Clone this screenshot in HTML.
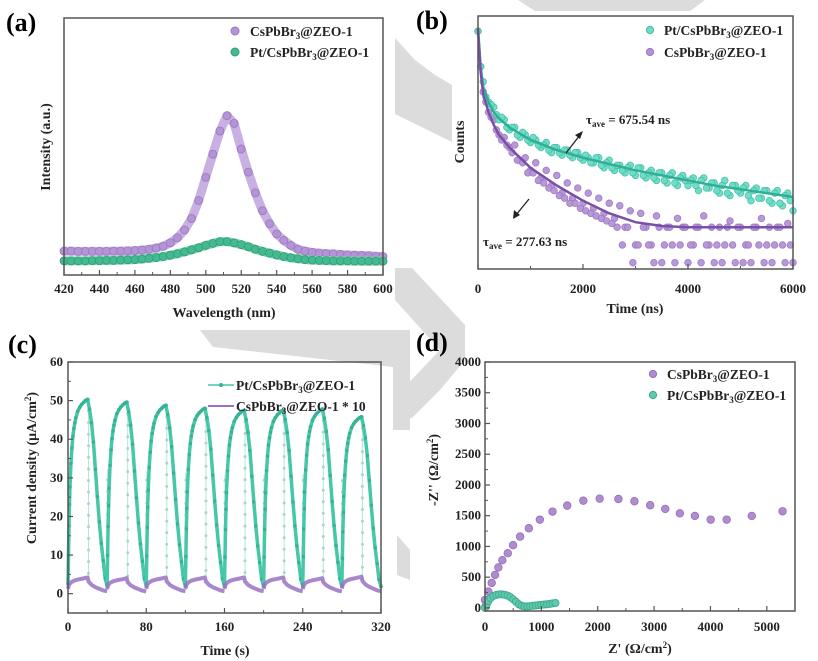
<!DOCTYPE html>
<html><head><meta charset="utf-8"><style>
html,body{margin:0;padding:0;background:#fff}
svg{display:block;font-family:"Liberation Serif",serif;font-weight:bold}
</style></head><body>
<svg id="fig" width="818" height="661" viewBox="0 0 818 661" xmlns="http://www.w3.org/2000/svg">
<g fill="#dcdcdc">
<polygon points="395,38 415,60 435,75 452,85 452,142 395,114"/>
<polygon points="518,0 705,0 690,11 535,11"/>
<polygon points="395,268 412,268 465,325 465,360 440,390 412,418 397,418 397,395 440,350 395,300"/>
<polygon points="200,330 410,330 410,430 393,430 393,367 213,347"/>
<polygon points="397,535 410,550 410,580 397,575"/>
</g>
<text x="6" y="31" font-size="26">(a)</text>
<text x="416" y="29" font-size="26">(b)</text>
<text x="8" y="353" font-size="26">(c)</text>
<text x="416" y="351" font-size="26">(d)</text>
<g id="plots"></g>
</svg>
<script>
// ---------- Panel (a) data ----------
const aWavelengths = [420,424,428,432,436,440,444,448,452,456,460,464,468,472,476,480,484,488,492,496,500,504,508,512,516,520,524,528,532,536,540,544,548,552,556,560,564,568,572,576,580,584,588,592,596,600];
const aPurple = [0.093,0.093,0.092,0.092,0.092,0.092,0.092,0.093,0.093,0.094,0.095,0.097,0.10,0.105,0.112,0.125,0.145,0.175,0.22,0.29,0.38,0.47,0.56,0.62,0.59,0.49,0.40,0.32,0.25,0.20,0.16,0.135,0.115,0.10,0.093,0.088,0.085,0.083,0.082,0.08,0.078,0.077,0.076,0.075,0.073,0.072];
const aGreen = [0.055,0.055,0.055,0.055,0.056,0.056,0.057,0.057,0.058,0.059,0.06,0.062,0.065,0.068,0.072,0.077,0.083,0.09,0.098,0.106,0.115,0.123,0.13,0.13,0.125,0.118,0.11,0.10,0.092,0.085,0.078,0.072,0.067,0.063,0.06,0.058,0.057,0.056,0.055,0.055,0.055,0.054,0.054,0.054,0.054,0.054];
const aXTicks = [420,440,460,480,500,520,540,560,580,600];
// ---------- Panel (b) data ----------
const bScatterStep = 100;
const bTeal = [0.94,0.74,0.66,0.64,0.59,0.59,0.55,0.56,0.52,0.53,0.50,0.51,0.48,0.50,0.46,0.48,0.45,0.47,0.44,0.46,0.43,0.44,0.42,0.44,0.40,0.43,0.39,0.41,0.38,0.41,0.37,0.40,0.36,0.39,0.35,0.38,0.34,0.38,0.33,0.37,0.33,0.36,0.31,0.36,0.32,0.34,0.30,0.35,0.29,0.33,0.30,0.33,0.27,0.32,0.28,0.31,0.26,0.31,0.25,0.30,0.23];
const bTeal2Start = 50;
const bTeal2 = [0.80,0.68,0.65,0.61,0.60,0.56,0.56,0.53,0.54,0.51,0.52,0.49,0.49,0.47,0.48,0.46,0.47,0.45,0.46,0.44,0.45,0.42,0.44,0.41,0.42,0.40,0.41,0.39,0.40,0.38,0.40,0.37,0.38,0.36,0.38,0.35,0.37,0.34,0.36,0.35,0.35,0.33,0.35,0.32,0.34,0.31,0.33,0.30,0.33,0.31,0.32,0.29,0.31,0.28,0.31,0.27,0.30,0.26,0.29,0.27];
const bPurple = [0.94,0.70,0.62,0.59,0.53,0.52,0.48,0.49,0.43,0.44,0.39,0.42,0.36,0.39,0.33,0.37,0.30,0.34,0.28,0.32,0.26,0.30,0.24,0.28,0.22,0.26,0.20,0.25,0.165,0.23,0.095,0.22,0.165,0.095,0.21,0.025,0.165,0.095,0.20,0.165,0.025,0.095,0.165,0.21,0.095,0.025,0.165,0.095,0.19,0.025,0.165,0.095,0.025,0.165,0.20,0.095,0.025,0.165,0.095,0.18,0.025];
const bPurple2Start = 50;
const bPurple2 = [0.80,0.66,0.60,0.55,0.51,0.49,0.46,0.43,0.42,0.38,0.38,0.35,0.34,0.32,0.31,0.29,0.28,0.26,0.26,0.24,0.23,0.22,0.21,0.20,0.19,0.18];
const bPurpleExtraStart = 2650;
const bPurpleExtra = [0.165,0.095,0.165,0.025,0.095,0.165,0.095,0.025,0.165,0.095,0.165,0.025,0.095,0.165,0.095,0.165,0.025,0.095,0.165,0.095,0.025,0.165,0.095,0.165,0.025,0.095,0.165,0.095,0.025,0.165,0.095,0.165,0.025,0.095];
const bFitTimes = [0,50,100,200,300,400,600,800,1000,1500,2000,2500,3000,3500,4000,4500,5000,5500,6000];
const bTealFit = [0.95,0.80,0.72,0.66,0.62,0.595,0.56,0.535,0.51,0.47,0.44,0.415,0.39,0.37,0.35,0.33,0.315,0.30,0.285];
const bPurpleFit = [0.95,0.78,0.69,0.62,0.57,0.53,0.48,0.44,0.40,0.33,0.27,0.22,0.185,0.17,0.165,0.165,0.165,0.165,0.165];
const bXTicks = [0,2000,4000,6000];
// ---------- Panel (c) data ----------
const cPeriod = 40;
const cTealPeaks = [50.3,49.6,48.8,48.0,47.5,47.5,47.8,45.8];
const cRiseT = [0,0.5,1,1.5,2,3,4,5,6,7,8,10,12,14,16,18,20];
const cRiseFrac = [0.05,0.2,0.35,0.46,0.55,0.67,0.75,0.81,0.85,0.88,0.905,0.94,0.96,0.975,0.985,0.995,1.0];
const cDecayT = [20,22,24,26,28,30,32,34,36,38,40];
const cDecayFrac = [1,0.95,0.88,0.78,0.64,0.5,0.37,0.26,0.17,0.08,0.04];
const cPurplePeaks = [4.2,4.0,4.2,4.2,4.2,4.2,4.0,4.4];
const cPurpleT = [0,1,3,6,10,15,20,21,24,28,32,36,40];
const cPurpleFrac = [0.3,0.55,0.7,0.8,0.87,0.93,1.0,0.75,0.55,0.4,0.3,0.2,0.15];
const cXTicks = [0,80,160,240,320];
const cYTicks = [0,10,20,30,40,50,60];
// ---------- Panel (d) data ----------
const dPurpleX = [10,0,59,119,178,237,308,404,498,623,778,973,1198,1459,1744,2034,2367,2651,2931,3198,3457,3724,4004,4288,4733,5279];
const dPurpleY = [30,130,265,407,537,659,776,890,1020,1160,1296,1436,1566,1664,1745,1777,1772,1735,1670,1610,1539,1496,1436,1436,1496,1572];
const dTealX = [0,30,60,100,150,200,250,300,350,400,450,500,550,600,650,700,750,800,850,900,950,1000,1050,1100,1150,1200,1250];
const dTealY = [0,60,110,160,195,212,220,220,215,200,175,140,100,60,35,25,25,30,35,40,45,50,55,60,65,75,80];
const dXTicks = [0,1000,2000,3000,4000,5000];
const dYTicks = [0,500,1000,1500,2000,2500,3000,3500,4000];

const NS = "http://www.w3.org/2000/svg";
const root = document.getElementById('plots');
function mk(tag, attrs, parent){const e=document.createElementNS(NS,tag);for(const k in attrs)e.setAttribute(k,attrs[k]);(parent||root).appendChild(e);return e;}
function lin(d0,d1,r0,r1){return v=>r0+(v-d0)/(d1-d0)*(r1-r0);}

function panel(name){
  const g=mk('g',{});
  
  
  return g;
}
function frame(g,P,name){
  const r=mk('rect',{x:P.x0,y:P.y0,width:P.x1-P.x0,height:P.y1-P.y0,fill:'none',stroke:'#555','stroke-width':1.5},g);
  
  
}
function xTicks(g,P,sx,ticks,minor,labelY,name){
  const ag=mk('g',{},g);
  
  
  ticks.forEach(t=>{
    mk('line',{x1:sx(t),x2:sx(t),y1:P.y1,y2:P.y1-5,stroke:'#555','stroke-width':1.2},ag);
    const tx=mk('text',{x:sx(t),y:labelY,'font-size':13,'text-anchor':'middle',fill:'#222'},ag);
    tx.textContent=t;
    
    
  });
  minor.forEach(t=>mk('line',{x1:sx(t),x2:sx(t),y1:P.y1,y2:P.y1-3,stroke:'#555','stroke-width':1},ag));
}
function yTicks(g,P,sy,ticks,minor,labelX,name){
  const ag=mk('g',{},g);
  
  
  ticks.forEach(t=>{
    mk('line',{x1:P.x0,x2:P.x0+5,y1:sy(t),y2:sy(t),stroke:'#555','stroke-width':1.2},ag);
    const tx=mk('text',{x:labelX,y:sy(t)+4,'font-size':13,'text-anchor':'end',fill:'#222'},ag);
    tx.textContent=t;
    
    
  });
  minor.forEach(t=>mk('line',{x1:P.x0,x2:P.x0+3,y1:sy(t),y2:sy(t),stroke:'#555','stroke-width':1},ag));
}
function title(g,txt,x,y,rot,name,size){
  const t=mk('text',{x:x,y:y,'font-size':size||14,'text-anchor':'middle',fill:'#222',transform:rot?`rotate(-90 ${x} ${y})`:''},g);
  t.innerHTML=txt;
  
  
}
function legendText(g,x,y,html,name){
  const t=mk('text',{x:x,y:y,'font-size':13.5,fill:'#222'},g);
  t.innerHTML=html;
  
  
}
const CS='CsPbBr<tspan dy="3" font-size="9">3</tspan><tspan dy="-3">@ZEO-1</tspan>';
const PTCS='Pt/CsPbBr<tspan dy="3" font-size="9">3</tspan><tspan dy="-3">@ZEO-1</tspan>';

// ================= Panel A =================
(function(){
  const P={x0:64,x1:383,y0:18,y1:275};
  const g=panel('panel-a-pl-spectra');
  const sx=lin(420,600,P.x0,P.x1), sy=lin(0,1,P.y1,P.y0);
  function series(vals,fill,stroke,band,name){
    const sg=mk('g',{},g);
    
    
    mk('polyline',{points:aWavelengths.map((w,i)=>sx(w)+','+sy(vals[i])).join(' '),fill:'none',stroke:band,'stroke-width':9,'stroke-linejoin':'round'},sg);
    aWavelengths.forEach((w,i)=>{
      const c=mk('circle',{cx:sx(w),cy:sy(vals[i]),r:4,fill:fill,stroke:stroke,'stroke-width':0.8},sg);
      
      
    });
  }
  series(aPurple,'#b594d6','#9a76c0','#c9b0e2','series-cspbbr3');
  series(aGreen,'#45b98f','#2e9e76','#7fd3b4','series-pt-cspbbr3');
  frame(g,P,'plot-frame-a');
  const minor=[];for(let v=430;v<600;v+=20)minor.push(v);
  xTicks(g,P,sx,aXTicks,minor,293,'x-axis-a');
  title(g,'Wavelength (nm)',224,317,false,'x-axis-title-a');
  title(g,'Intensity (a.u.)',50,147,true,'y-axis-title-a');
  const lg=mk('g',{},g);
  
  
  mk('circle',{cx:235,cy:31,r:4,fill:'#b594d6',stroke:'#9a76c0'},lg);
  legendText(lg,250,36,CS,'legend-entry-cspbbr3');
  mk('circle',{cx:235,cy:52,r:4,fill:'#45b98f',stroke:'#2e9e76'},lg);
  legendText(lg,250,57,PTCS,'legend-entry-pt-cspbbr3');
})();

// ================= Panel B =================
(function(){
  const P={x0:478,x1:793,y0:16,y1:269};
  const g=panel('panel-b-trpl');
  const sx=lin(0,6000,P.x0,P.x1), sy=lin(0,1,P.y1,P.y0);
  function scatter(vals,t0,step,fill,stroke,name){
    const sg=mk('g',{},g);
    
    
    vals.forEach((v,i)=>{
      const c=mk('circle',{cx:sx(t0+i*step),cy:sy(v),r:3.3,fill:fill,stroke:stroke,'stroke-width':0.8,opacity:0.95},sg);
      
      
    });
  }
  function fit(vals,color,name){
    const l=mk('polyline',{points:bFitTimes.map((t,i)=>sx(t)+','+sy(vals[i])).join(' '),fill:'none',stroke:color,'stroke-width':2.5},g);
    
    
  }
  scatter(bPurple,0,bScatterStep,'#b594d6','#9a76c0','series-cspbbr3-decay');
  scatter(bPurple2,bPurple2Start,bScatterStep,'#b594d6','#9a76c0','series-cspbbr3-decay-b');
  scatter(bPurpleExtra,bPurpleExtraStart,bScatterStep,'#b594d6','#9a76c0','series-cspbbr3-decay-floor');
  scatter(bTeal,0,bScatterStep,'#6ddcc6','#3fbfa6','series-pt-cspbbr3-decay');
  scatter(bTeal2,bTeal2Start,bScatterStep,'#6ddcc6','#3fbfa6','series-pt-cspbbr3-decay-b');
  fit(bTealFit,'#2fb096','fit-line-pt-cspbbr3');
  fit(bPurpleFit,'#7a4fa8','fit-line-cspbbr3');
  frame(g,P,'plot-frame-b');
  xTicks(g,P,sx,bXTicks,[1000,3000,5000],293,'x-axis-b');
  title(g,'Time (ns)',635,313,false,'x-axis-title-b');
  title(g,'Counts',464,142,true,'y-axis-title-b');
  const a1=mk('g',{},g);
  
  
  mk('line',{x1:566,y1:153,x2:580,y2:135,stroke:'#222','stroke-width':1.3},a1);
  mk('polygon',{points:'583,131 575,135 580,139',fill:'#222'},a1);
  const t1=mk('text',{x:586,y:124,'font-size':13,fill:'#222'},a1);
  t1.innerHTML='τ<tspan dy="3" font-size="9">ave</tspan><tspan dy="-3"> = 675.54 ns</tspan>';
  const a2=mk('g',{},g);
  
  
  mk('line',{x1:529,y1:199,x2:516,y2:215,stroke:'#222','stroke-width':1.3},a2);
  mk('polygon',{points:'513,219 514,210 520,215',fill:'#222'},a2);
  const t2=mk('text',{x:483,y:246,'font-size':13,fill:'#222'},a2);
  t2.innerHTML='τ<tspan dy="3" font-size="9">ave</tspan><tspan dy="-3"> = 277.63 ns</tspan>';
  const lg=mk('g',{},g);
  
  
  mk('circle',{cx:650,cy:30,r:3.6,fill:'#6ddcc6',stroke:'#3fbfa6'},lg);
  legendText(lg,664,35,PTCS,'legend-entry-pt-cspbbr3');
  mk('circle',{cx:650,cy:52,r:3.6,fill:'#b594d6',stroke:'#9a76c0'},lg);
  legendText(lg,664,57,CS,'legend-entry-cspbbr3');
})();

// ================= Panel C =================
(function(){
  const P={x0:68,x1:381,y0:362,y1:613};
  const g=panel('panel-c-photocurrent');
  const sx=lin(0,320,P.x0,P.x1), sy=lin(-5,60,P.y1,P.y0);
  const tg=mk('g',{},g);
  
  
  const pg=mk('g',{},g);
  
  
  cTealPeaks.forEach((pk,k)=>{
    const t0=k*cPeriod;
    const rise=cRiseT.map((t,i)=>[sx(t0+t),sy(pk*cRiseFrac[i])]);
    const decay=cDecayT.map((t,i)=>[sx(t0+t),sy(pk*cDecayFrac[i])]);
    const xd=sx(t0+21);
    mk('line',{x1:xd,x2:xd,y1:sy(pk),y2:sy(pk*0.08),stroke:'#b5e6d8','stroke-width':1},tg);
    for(let v=pk;v>pk*0.08;v-=3)mk('circle',{cx:xd,cy:sy(v),r:1.5,fill:'#a9d6c9'},tg);
    if(k>0){
      const xr=sx(t0+0.5);
      mk('line',{x1:xr,x2:xr,y1:sy(pk*0.05),y2:sy(pk*0.65),stroke:'#b5e6d8','stroke-width':1},tg);
      for(let v=pk*0.05;v<pk*0.65;v+=3)mk('circle',{cx:xr,cy:sy(v),r:1.5,fill:'#a9d6c9'},tg);
    }
    const l=mk('polyline',{points:rise.concat(decay).map(p=>p.join(',')).join(' '),fill:'none',stroke:'#45c7a8','stroke-width':3.5,'stroke-linejoin':'round'},tg);
    
    
    rise.concat(decay).forEach(p=>mk('circle',{cx:p[0],cy:p[1],r:1.8,fill:'#38b295'},tg));
  });
  cPurplePeaks.forEach((pk,k)=>{
    const t0=k*cPeriod;
    const pts=cPurpleT.map((t,i)=>[sx(t0+t),sy(pk*cPurpleFrac[i])]);
    const l=mk('polyline',{points:pts.map(p=>p.join(',')).join(' '),fill:'none',stroke:'#9a72c4','stroke-width':4,'stroke-linejoin':'round',opacity:0.85},pg);
    
    
  });
  frame(g,P,'plot-frame-c');
  xTicks(g,P,sx,cXTicks,[40,120,200,280],631,'x-axis-c');
  yTicks(g,P,sy,cYTicks,[-5,5,15,25,35,45,55],63,'y-axis-c');
  title(g,'Time (s)',225,655,false,'x-axis-title-c');
  title(g,'Current density (μA/cm<tspan dy="-5" font-size="9">2</tspan><tspan dy="5">)</tspan>',36,468,true,'y-axis-title-c');
  const lg=mk('g',{},g);
  
  
  mk('line',{x1:208,x2:234,y1:385,y2:385,stroke:'#45c7a8','stroke-width':1.5},lg);
  mk('circle',{cx:221,cy:385,r:2,fill:'#38b295'},lg);
  legendText(lg,236,390,PTCS,'legend-entry-pt-cspbbr3');
  mk('line',{x1:208,x2:234,y1:406,y2:406,stroke:'#9a72c4','stroke-width':2},lg);
  legendText(lg,236,411,CS+' * 10','legend-entry-cspbbr3-x10');
})();

// ================= Panel D =================
(function(){
  const P={x0:485,x1:795,y0:362,y1:611};
  const g=panel('panel-d-eis');
  const sx=lin(0,5500,P.x0,P.x1), sy=lin(-50,4000,P.y1,P.y0);
  function scatter(xs,ys,fill,stroke,r,name){
    const sg=mk('g',{},g);
    
    
    xs.forEach((x,i)=>{
      const c=mk('circle',{cx:sx(x),cy:sy(ys[i]),r:r,fill:fill,stroke:stroke,'stroke-width':0.8},sg);
      
      
    });
  }
  scatter(dPurpleX,dPurpleY,'#b08ccf','#9470b8',3.8,'series-cspbbr3-nyquist');
  scatter(dTealX,dTealY,'#5fc9ad','#3aa88c',3.6,'series-pt-cspbbr3-nyquist');
  frame(g,P,'plot-frame-d');
  xTicks(g,P,sx,dXTicks,[500,1500,2500,3500,4500],631,'x-axis-d');
  yTicks(g,P,sy,dYTicks,[250,750,1250,1750,2250,2750,3250,3750],481,'y-axis-d');
  title(g,"Z' (Ω/cm<tspan dy=\"-5\" font-size=\"9\">2</tspan><tspan dy=\"5\">)</tspan>",640,653,false,'x-axis-title-d');
  title(g,"-Z'' (Ω/cm<tspan dy=\"-5\" font-size=\"9\">2</tspan><tspan dy=\"5\">)</tspan>",438,470,true,'y-axis-title-d');
  const lg=mk('g',{},g);
  
  
  mk('circle',{cx:653,cy:374,r:3.6,fill:'#b08ccf',stroke:'#9470b8'},lg);
  legendText(lg,667,379,CS,'legend-entry-cspbbr3');
  mk('circle',{cx:653,cy:395,r:3.6,fill:'#5fc9ad',stroke:'#3aa88c'},lg);
  legendText(lg,667,400,PTCS,'legend-entry-pt-cspbbr3');
})();
</script>
</body></html>
